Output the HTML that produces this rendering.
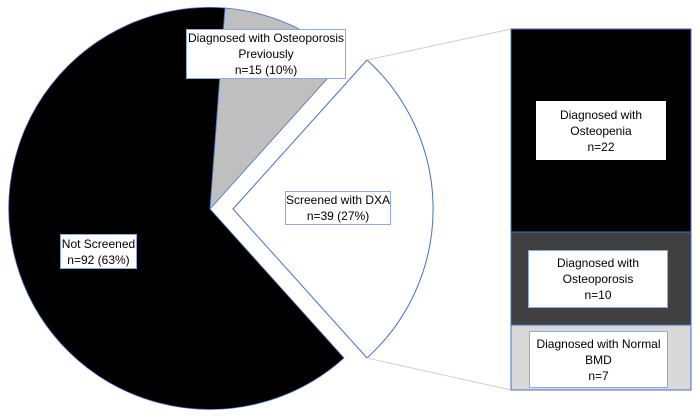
<!DOCTYPE html>
<html><head><style>
body{margin:0;background:#fff;}
.wrap{position:relative;width:700px;height:419px;overflow:hidden;font-family:"Liberation Sans",sans-serif;}
.lb{position:absolute;background:#fff;border:1px solid #8faadc;box-sizing:border-box;font-size:12px;line-height:16px;text-align:center;color:#000;display:flex;align-items:center;justify-content:center;white-space:nowrap;}
</style></head><body><div class="wrap">
<svg width="700" height="419" style="position:absolute;left:0;top:0">
<path d="M210,209 L225,8 A201,201 0 1 0 344,358 Z" fill="#000" stroke="#4472c4" stroke-width="0.8"/>
<path d="M210,209 L344,60 A201,201 0 0 0 225,8 Z" fill="#bfbfbf" stroke="#4472c4" stroke-width="0.8"/>
<path d="M233,209 L367,60 A201,201 0 0 1 367,358 Z" fill="#fff" stroke="#4472c4" stroke-width="1"/>
<line x1="367" y1="60" x2="511" y2="29" stroke="#d0d0d0" stroke-width="1"/>
<line x1="367" y1="358" x2="511" y2="390" stroke="#d0d0d0" stroke-width="1"/>
<rect x="511" y="29" width="180" height="203" fill="#000" stroke="#4472c4"/>
<rect x="511" y="232" width="180" height="93" fill="#404040" stroke="#4472c4"/>
<rect x="511" y="325" width="180" height="65" fill="#d9d9d9" stroke="#4472c4"/>
</svg>
<div class="lb" style="left:186px;top:29px;width:160px;height:50px;">Diagnosed with Osteoporosis<br>Previously<br>n=15 (10%)</div>
<div class="lb" style="left:285px;top:191px;width:106px;height:34px;">Screened with DXA<br>n=39 (27%)</div>
<div class="lb" style="left:60px;top:234px;width:77px;height:35px;">Not Screened<br>n=92 (63%)</div>
<div class="lb" style="left:536px;top:101px;width:130px;height:59px;border-color:#fff;">Diagnosed with<br>Osteopenia<br>n=22</div>
<div class="lb" style="left:528px;top:250px;width:140px;height:58px;">Diagnosed with<br>Osteoporosis<br>n=10</div>
<div class="lb" style="left:529px;top:331px;width:139px;height:57px;">Diagnosed with Normal<br>BMD<br>n=7</div>
</div></body></html>
